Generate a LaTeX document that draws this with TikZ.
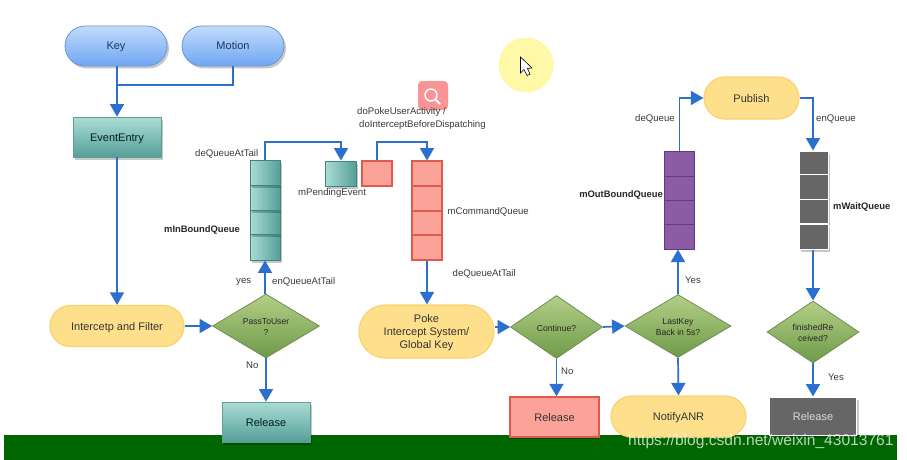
\documentclass[tikz,border=0pt]{standalone}
\usepackage{fontspec}
\setmainfont{Liberation Sans}
\usetikzlibrary{arrows.meta,shapes.geometric,shapes.misc,shadows}
\newcommand{\tx}[1]{\raisebox{-1pt}[8pt][2pt]{#1}}
\definecolor{linkc}{HTML}{2B6FCF}
\definecolor{txt}{HTML}{3A3A3A}
\definecolor{bluetop}{HTML}{C2DBFB}
\definecolor{bluebot}{HTML}{6FA6F4}
\definecolor{blueedge}{HTML}{6A98CE}
\definecolor{bluetxt}{HTML}{1F3560}
\definecolor{yelfill}{HTML}{FEE08C}
\definecolor{yeledge}{HTML}{FBD36C}
\definecolor{tealtop}{HTML}{ABDDD6}
\definecolor{tealbot}{HTML}{559F97}
\definecolor{tealedge}{HTML}{5F9F98}
\definecolor{tealline}{HTML}{3F857D}
\definecolor{greentop}{HTML}{B3CF87}
\definecolor{greenbot}{HTML}{6F9A48}
\definecolor{greenedge}{HTML}{6F8F55}
\definecolor{redfill}{HTML}{FBA398}
\definecolor{rededge}{HTML}{E05A4C}
\definecolor{purpfill}{HTML}{8B5BA3}
\definecolor{purpedge}{HTML}{63388A}
\definecolor{greyfill}{HTML}{666666}
\definecolor{magfill}{HTML}{F99596}
\definecolor{halo}{HTML}{FFF8A6}
\definecolor{band}{HTML}{006600}
\tikzset{
  lk/.style={draw=linkc,line width=1.7pt,-{Triangle[width=14pt,length=12.5pt]}},
  lkplain/.style={draw=linkc,line width=1.7pt},
  shd/.style={drop shadow={shadow xshift=2pt,shadow yshift=-2.5pt,opacity=.22,fill=black}},
  box/.style={rectangle,inner sep=0pt,align=center,font=\fontsize{11}{13}\selectfont,text=black!80},
  bluepill/.style={rounded rectangle,inner sep=0pt,font=\fontsize{11}{13}\selectfont,text=bluetxt,draw=blueedge,line width=.8pt,top color=bluetop,bottom color=bluebot,shd},
  yelpill/.style={rounded rectangle,inner sep=0pt,align=center,font=\fontsize{11}{13}\selectfont,text=black!80,draw=yeledge,line width=1.2pt,fill=yelfill},
  tealbox/.style={box,text=black!75!teal,draw=tealedge,line width=.8pt,top color=tealtop,bottom color=tealbot,shd},
  tealq/.style={rectangle,inner sep=0pt,draw=tealline,line width=.9pt,left color=tealtop,right color=tealbot,shd},
  redq/.style={rectangle,inner sep=0pt,draw=rededge,line width=1.2pt,fill=redfill},
  redbox/.style={box,draw=rededge,line width=1.4pt,fill=redfill,drop shadow={shadow xshift=0pt,shadow yshift=-1.5pt,opacity=.25,fill=black}},
  purpq/.style={rectangle,inner sep=0pt,draw=purpedge,line width=1pt,fill=purpfill},
  greyq/.style={rectangle,inner sep=0pt,draw=white,line width=1pt,fill=greyfill,shd},
  greybox/.style={box,text=white!85!black,draw=white,line width=1pt,fill=greyfill,shd},
  dec/.style={diamond,aspect=1.68,inner sep=0pt,align=center,font=\fontsize{8.6}{11}\selectfont,text=black!85,draw=greenedge,line width=.8pt,top color=greentop,bottom color=greenbot},
  lbl/.style={inner sep=0pt,text=txt,font=\fontsize{9.6}{11}\selectfont},
  blbl/.style={lbl,text=black!85,font=\fontsize{9.4}{11}\selectfont\bfseries},
}
\begin{document}
\begin{tikzpicture}[x=1pt,y=-1pt]
\useasboundingbox (0,0) rectangle (907,460);
\fill[white] (0,0) rectangle (907,460);
\fill[band] (4,435) rectangle (897,460);
% decoration
\fill[halo] (526,65) circle (27.5);
\draw[black,fill=white,line width=.6pt] (520.5,57) -- (520.5,73) -- (524,69.5) -- (527,75.5) -- (530,74.3) -- (527.5,68.5) -- (532,68) -- cycle;
\fill[magfill,rounded corners=4pt] (418,81) rectangle (448,110);
\draw[white,line width=1.4pt] (431,95) circle (6);
\draw[white,line width=2pt,line cap=round] (436,100) -- (440,104);
% left column
\node[bluepill,minimum width=102pt,minimum height=40pt] (key) at (116,46) {\tx{Key}};
\node[bluepill,minimum width=102pt,minimum height=40pt] (motion) at (233,46) {\tx{Motion}};
\node[tealbox,minimum width=88pt,minimum height=40pt] (entry) at (117,137) {\tx{EventEntry}};
\node[yelpill,minimum width=134pt,minimum height=41pt] (filter) at (117,326) {\tx{Intercetp and Filter}};
\node[dec,minimum width=107pt,minimum height=64pt] (pass) at (266,326) {\tx{PassToUser}\\\tx{?}};
\node[tealbox,minimum width=88pt,minimum height=40pt] (rel1) at (266,422) {\tx{Release}};
% in queue (bottom cell first, so that each cell's shadow falls on the next)
\node[tealq,minimum width=30pt,minimum height=26pt] (in4) at (265,247) {};
\node[tealq,minimum width=30pt,minimum height=24pt] (in3) at (265,222) {};
\node[tealq,minimum width=30pt,minimum height=25pt] (in2) at (265,197.5) {};
\node[tealq,minimum width=30pt,minimum height=25pt] (in1) at (265,172.5) {};
\node[tealq,minimum width=31pt,minimum height=25pt] (pend) at (340.5,173.5) {};
% command
\node[redq,minimum width=30pt,minimum height=25pt] (poke) at (377,173.5) {};
\node[redq,minimum width=30pt,minimum height=25pt] (cq1) at (427,173.5) {};
\node[redq,minimum width=30pt,minimum height=25pt] (cq2) at (427,198.5) {};
\node[redq,minimum width=30pt,minimum height=24pt] (cq3) at (427,223) {};
\node[redq,minimum width=30pt,minimum height=25pt] (cq4) at (427,247.5) {};
\node[yelpill,minimum width=135pt,minimum height=53pt] (sys) at (426.5,331.5) {\tx{Poke}\\\tx{Intercept System/}\\\tx{Global Key}};
\node[dec,minimum width=92pt,minimum height=63pt] (cont) at (556.5,327) {\tx{Continue?}};
\node[redbox,minimum width=89pt,minimum height=40pt] (rel2) at (554.5,417) {\tx{Release}};
\node[dec,minimum width=106pt,minimum height=63pt] (last) at (678,326) {\tx{LastKey}\\\tx{Back in 5s?}};
\node[yelpill,minimum width=135pt,minimum height=41pt] (anr) at (678.5,416.5) {\tx{NotifyANR}};
% out queue
\node[purpq,minimum width=30pt,minimum height=25pt] (out1) at (679.5,163.5) {};
\node[purpq,minimum width=30pt,minimum height=24pt] (out2) at (679.5,188) {};
\node[purpq,minimum width=30pt,minimum height=24pt] (out3) at (679.5,212) {};
\node[purpq,minimum width=30pt,minimum height=25pt] (out4) at (679.5,236.5) {};
\node[yelpill,minimum width=95pt,minimum height=42pt] (pub) at (751.5,98) {\tx{Publish}};
% wait queue
\node[greyq,minimum width=29pt,minimum height=23pt] (w1) at (813.5,162.5) {};
\node[greyq,minimum width=29pt,minimum height=25pt] (w2) at (813.5,186.5) {};
\node[greyq,minimum width=29pt,minimum height=24pt] (w3) at (813.5,211.5) {};
\node[greyq,minimum width=29pt,minimum height=25pt] (w4) at (813.5,236.5) {};
\node[dec,minimum width=92pt,minimum height=62pt] (fin) at (813,332) {\tx{finishedRe}\\\tx{ceived?}};
\node[greybox,minimum width=87pt,minimum height=38pt] (rel3) at (813,416) {\tx{Release}};
% joints
\coordinate (j1) at (117,85);
\coordinate (j2) at (265,142);
\coordinate (j3) at (377,142);
\coordinate (pendtop) at (341,160.5);
\coordinate (cqtop) at (427,160.5);
% connectors
\draw[lk] (entry.north |- key.south) -- (entry.north);
\draw[lkplain] (motion.south) |- (j1);
\draw[lk] (entry.south) -- (filter.north);
\draw[lk] (filter.east) -- (pass.west);
\draw[lk] (pass.north -| in4.south) -- (in4.south);
\draw[lk] (pass.south) -- (rel1.north);
\draw[lk] (in1.north) |- (j2) -| (pendtop);
\draw[lk] (poke.north) |- (j3) -| (cqtop);
\draw[lk] (cq4.south) -- (sys.north -| cq4.south);
\draw[lk] (sys.east |- cont.west) -- (cont.west);
\draw[lk] (cont.south) -- (rel2.north -| cont.south);
\draw[lk] (cont.east) -- (last.west);
\draw[lk] (last.north) -- (last.north |- out4.south);
\draw[lk] (last.south) -- (anr.north);
\draw[lk] (out1.north) |- (pub.west);
\draw[lk] (pub.east) -| (fin.north |- w1.north);
\draw[lk] (fin.north |- w4.south) -- (fin.north);
\draw[lk] (fin.south) -- (rel3.north);
% labels
\node[lbl,anchor=west] (l1) at (195,154) {deQueueAtTail};
\node[lbl,anchor=west] (l2) at (298,193) {mPendingEvent};
\node[lbl,anchor=west] (l3) at (357,112.5) {doPokeUserActivity /};
\node[lbl,anchor=west] (l4) at (359,125.5) {doInterceptBeforeDispatching};
\node[lbl,anchor=west] (l5) at (447.5,211.5) {mCommandQueue};
\node[lbl,anchor=west] (l6) at (452.5,274) {deQueueAtTail};
\node[blbl,anchor=west] (l7) at (164,230) {mInBoundQueue};
\node[lbl,anchor=west] (l8) at (236,282) {yes};
\node[lbl,anchor=west] (l9) at (272,282) {enQueueAtTail};
\node[lbl,anchor=west] (l10) at (246,365) {No};
\node[lbl,anchor=west] (l11) at (561,371) {No};
\node[lbl,anchor=west] (l12) at (685,280) {Yes};
\node[lbl,anchor=west] (l13) at (828,377) {Yes};
\node[lbl,anchor=west] (l14) at (635,119) {deQueue};
\node[lbl,anchor=west] (l15) at (816,119) {enQueue};
\node[blbl,anchor=east] (l16) at (663,195.5) {mOutBoundQueue};
\node[blbl,anchor=west] (l17) at (833,207) {mWaitQueue};
% watermark
\node[inner sep=0pt,anchor=west,text=white,text opacity=.72,font=\fontsize{15.6}{18}\selectfont] (wm) at (628,441.5) {https://blog.csdn.net/weixin\_43013761};
\end{tikzpicture}
\end{document}
